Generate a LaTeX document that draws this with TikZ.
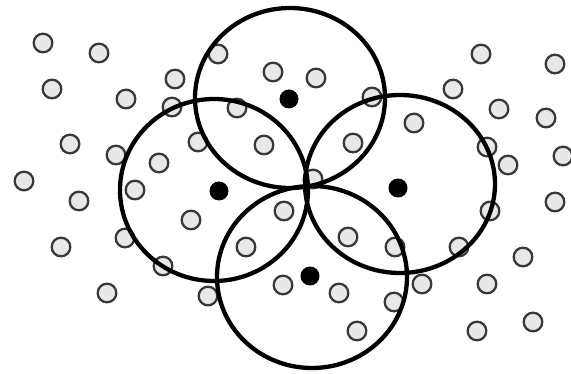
\documentclass[tikz,border=0pt]{standalone}
\begin{document}
\begin{tikzpicture}[x=1pt,y=-1pt,
  smallc/.style={circle,draw=black!78,fill=black!9,line width=2.3pt,minimum size=18.6pt,inner sep=0pt},
  bigc/.style={draw=black,line width=4.3pt},
  center/.style={circle,fill=black,minimum size=19pt,inner sep=0pt}]
\useasboundingbox (0,0) rectangle (571,374);
\fill[white] (0,0) rectangle (571,374);
\foreach \px/\py [count=\i] in {43/43,99/53,52/89,126/99,175/79,172/107,70/144,116/155,159/163,24/181,198/142,135/190,
218/54,273/72,316/78,237/108,372/97,264/145,353/143,313/179,
481/54,555/64,453/89,499/109,546/118,414/123,487/147,508/165,563/156,
79/201,191/220,61/247,125/238,163/266,107/293,
284/211,246/247,348/237,283/285,339/293,208/296,357/331,
490/211,555/202,459/247,395/247,523/257,422/284,487/284,394/302,533/322,477/331}
  \node[smallc] (s\i) at (\px,\py) {};
\draw[bigc] (290,98) ellipse [x radius=95, y radius=90];
\draw[bigc] (214,190) ellipse [x radius=94, y radius=91];
\draw[bigc] (400,184) ellipse [x radius=95, y radius=89];
\draw[bigc] (312,277) ellipse [x radius=95, y radius=91];
\node[center] (ctop) at (289,99) {};
\node[center] (cleft) at (219,191) {};
\node[center] (cright) at (398,188) {};
\node[center] (cbottom) at (310,276) {};
\end{tikzpicture}
\end{document}
